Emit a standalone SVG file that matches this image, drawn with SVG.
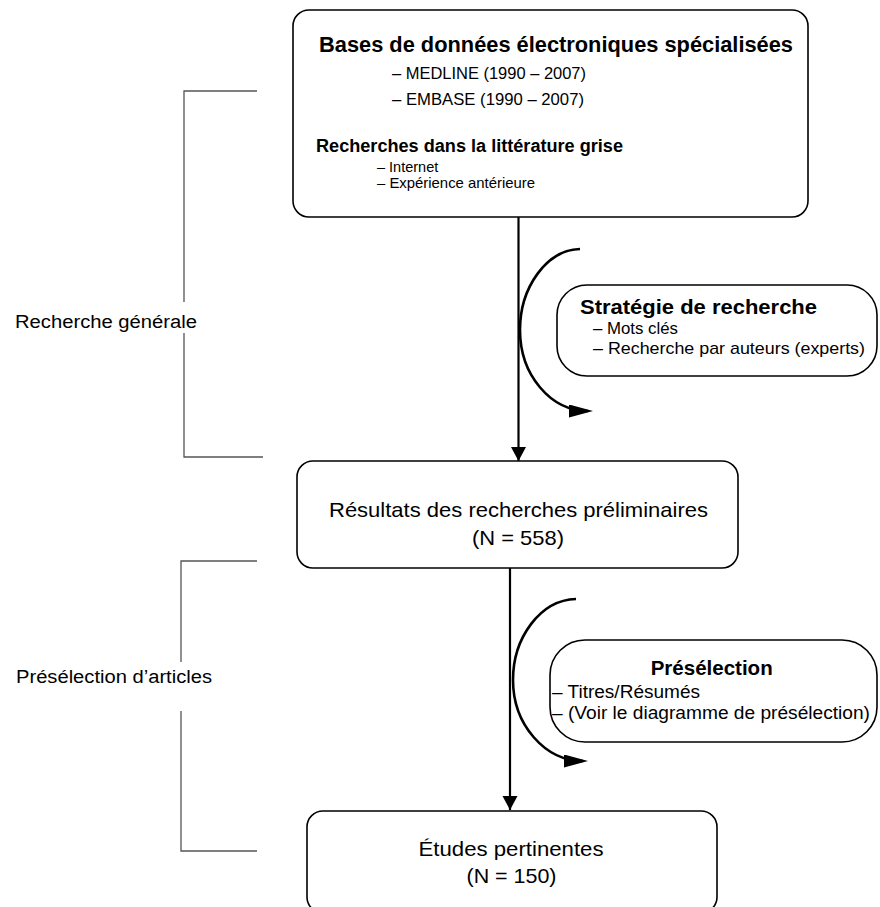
<svg xmlns="http://www.w3.org/2000/svg" width="880" height="907" viewBox="0 0 880 907">
<style>
text{font-family:"Liberation Sans",Arial,sans-serif;fill:#000}
.b{font-weight:bold}
.box{fill:#fff;stroke:#000;stroke-width:1.6}
.br{fill:none;stroke:#555;stroke-width:1.3}
.ln{fill:none;stroke:#000;stroke-width:2.2}
.arc{fill:none;stroke:#000;stroke-width:2.6}
</style>
<defs>
<marker id="ah" markerUnits="userSpaceOnUse" markerWidth="15" markerHeight="16" refX="14" refY="7.5" orient="auto">
<path d="M0,0 L14,7.5 L0,15 z" fill="#000"/>
</marker>
<marker id="ah2" markerUnits="userSpaceOnUse" markerWidth="25" markerHeight="14" refX="19" refY="6.5" orient="auto">
<path d="M0,0 L24,6.5 L0,13 z" fill="#000"/>
</marker>
</defs>
<rect width="880" height="907" fill="#fff"/>

<g id="connectors">
<line class="ln" x1="518.5" y1="217" x2="518.5" y2="461" marker-end="url(#ah)"/>
<line class="ln" x1="510" y1="568" x2="510" y2="810" marker-end="url(#ah)"/>
<path class="arc" d="M580 249 C546 250 520 288 520 330 C520 374.7 550.4 411 588 411" marker-end="url(#ah2)"/>
<path class="arc" d="M576 599 C540 600 513 638 513 680 C513 724.7 545 761 583 761" marker-end="url(#ah2)"/>
</g>

<g id="bracket-recherche">
<polyline class="br" points="257,91 184,91 184,302"/>
<polyline class="br" points="184,333 184,457 263,457"/>
<text x="15" y="328" font-size="18" textLength="182" lengthAdjust="spacingAndGlyphs">Recherche générale</text>
</g>

<g id="bracket-preselection">
<polyline class="br" points="257,561 181,561 181,662"/>
<polyline class="br" points="181,711 181,851 257,851"/>
<text x="16" y="683" font-size="18" textLength="196" lengthAdjust="spacingAndGlyphs">Présélection d’articles</text>
</g>

<g id="node-bases">
<rect class="box" x="293" y="10" width="515" height="207" rx="16"/>
<text class="b" x="319" y="52" font-size="21.5" textLength="474" lengthAdjust="spacingAndGlyphs">Bases de données électroniques spécialisées</text>
<text x="392" y="79" font-size="16.5" textLength="194" lengthAdjust="spacingAndGlyphs">– MEDLINE (1990 – 2007)</text>
<text x="392" y="105" font-size="16.5" textLength="192" lengthAdjust="spacingAndGlyphs">– EMBASE (1990 – 2007)</text>
<text class="b" x="316" y="151.5" font-size="17.5" textLength="307" lengthAdjust="spacingAndGlyphs">Recherches dans la littérature grise</text>
<text x="377" y="171.5" font-size="14.5">– Internet</text>
<text x="377" y="187.5" font-size="14.5" textLength="158" lengthAdjust="spacingAndGlyphs">– Expérience antérieure</text>
</g>

<g id="node-strategie">
<rect class="box" x="557" y="285" width="320" height="91" rx="30"/>
<text class="b" x="580" y="314" font-size="21" textLength="237" lengthAdjust="spacingAndGlyphs">Stratégie de recherche</text>
<text x="593" y="334" font-size="16.5" textLength="85" lengthAdjust="spacingAndGlyphs">– Mots clés</text>
<text x="593" y="354" font-size="17" textLength="272" lengthAdjust="spacingAndGlyphs">– Recherche par auteurs (experts)</text>
</g>

<g id="node-resultats">
<rect class="box" x="297" y="461" width="441" height="107" rx="16"/>
<text x="518.5" y="517" font-size="21" text-anchor="middle" textLength="379" lengthAdjust="spacingAndGlyphs">Résultats des recherches préliminaires</text>
<text x="518" y="545" font-size="21" text-anchor="middle" textLength="92" lengthAdjust="spacingAndGlyphs">(N = 558)</text>
</g>

<g id="node-preselection">
<rect class="box" x="550" y="640" width="327" height="102" rx="35"/>
<text class="b" x="711.7" y="675" font-size="20.5" text-anchor="middle" textLength="122" lengthAdjust="spacingAndGlyphs">Présélection</text>
<text x="552" y="698" font-size="17.5" textLength="148" lengthAdjust="spacingAndGlyphs">– Titres/Résumés</text>
<text x="552" y="719" font-size="17.5" textLength="318" lengthAdjust="spacingAndGlyphs">– (Voir le diagramme de présélection)</text>
</g>

<g id="node-etudes">
<rect class="box" x="307" y="811" width="410" height="102" rx="16"/>
<text x="511" y="856" font-size="21" text-anchor="middle" textLength="185" lengthAdjust="spacingAndGlyphs">Études pertinentes</text>
<text x="511.5" y="883" font-size="21" text-anchor="middle" textLength="90" lengthAdjust="spacingAndGlyphs">(N = 150)</text>
</g>
</svg>
